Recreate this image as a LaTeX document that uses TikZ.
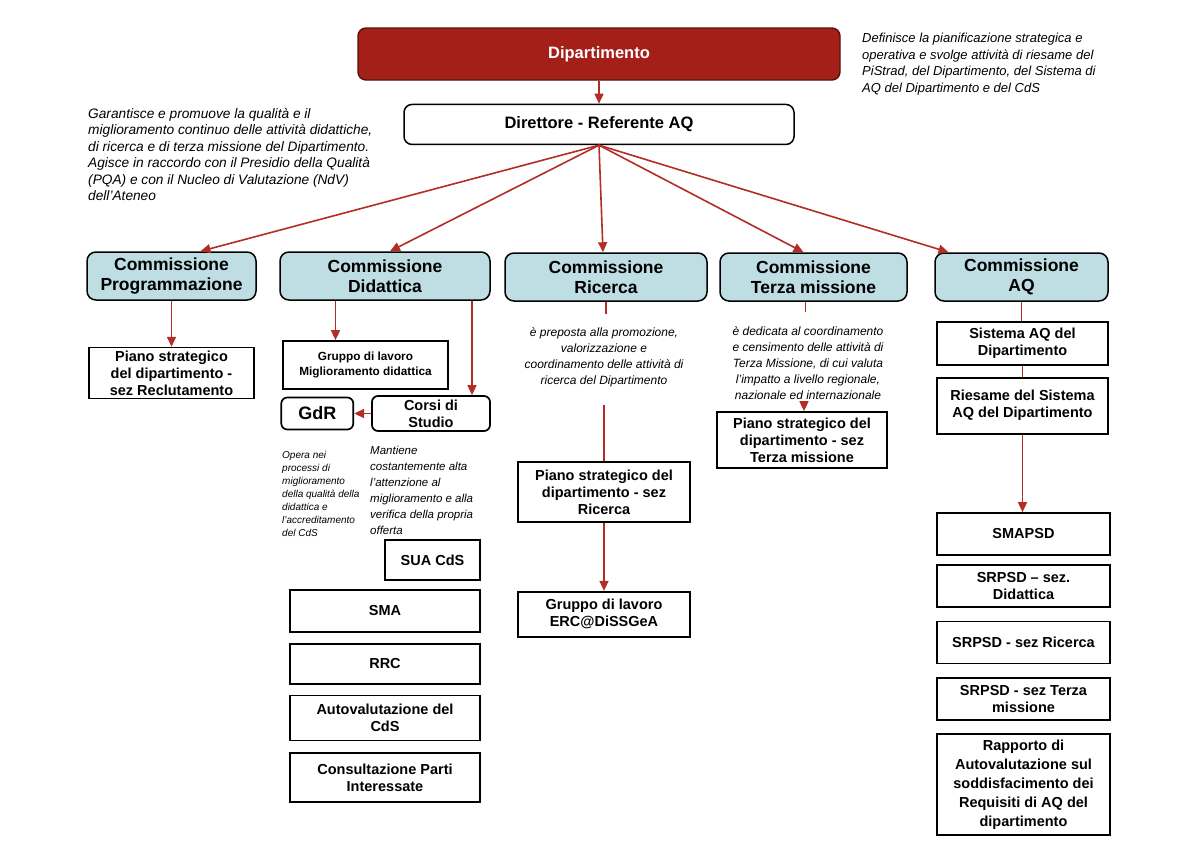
\documentclass[tikz,border=0pt]{standalone}
\usepackage{fontspec}
\setmainfont{Liberation Sans}
\usetikzlibrary{arrows.meta,calc,positioning}

\definecolor{deptred}{RGB}{163,31,24}
\definecolor{commblue}{RGB}{190,222,228}
\definecolor{linkred}{RGB}{178,45,38}
\newcommand{\fs}[2]{\fontsize{#1}{#2}\selectfont}

\begin{document}
\begin{tikzpicture}[
    x=1pt, y=-1pt,
    node distance=10pt,
    dept/.style={rounded corners=8pt, draw=deptred!55!black, line width=1.4pt, fill=deptred, text=white, font=\bfseries\fs{16.5}{19}, minimum width=482pt, minimum height=52pt},
    head/.style={rounded corners=8pt, draw=black, line width=1.5pt, fill=white, font=\bfseries\fs{16.5}{19}, minimum width=390pt, minimum height=40pt},
    comm/.style={rounded corners=9pt, draw=black, line width=1.5pt, fill=commblue, font=\bfseries\fs{17.5}{20}, align=center, minimum height=48pt, inner sep=2pt},
    doc/.style={draw=black, line width=1.7pt, fill=white, align=center, font=\bfseries\fs{14.5}{17}, inner sep=2pt},
    rdoc/.style={doc, rounded corners=6pt},
    note/.style={font=\itshape\fs{13}{16.5}, align=left, inner sep=0pt},
    smallnote/.style={font=\itshape\fs{12}{16}, align=center, inner sep=0pt},
    arr/.style={draw=linkred, line width=1.6pt, -{Triangle[length=10pt,width=9pt]}},
    link/.style={draw=linkred, line width=1.6pt},
  ]
    \useasboundingbox (0,0) rectangle (1200,849);

    % top of the chart
    \node[dept] (dept) at (599,54) {Dipartimento};
    \node[head, below=23pt of dept] (dir) {Direttore - Referente AQ};
    \draw[arr] (dept) -- (dir);

    \node[note, font=\itshape\fs{13.7}{16.5}, anchor=north west] (garantisce) at (88,108) {Garantisce e promuove la qualità e il\\miglioramento continuo delle attività didattiche,\\di ricerca e di terza missione del Dipartimento.\\Agisce in raccordo con il Presidio della Qualità\\(PQA) e con il Nucleo di Valutazione (NdV)\\dell’Ateneo};
    \node[note, anchor=north west] (definisce) at (862,33) {Definisce la pianificazione strategica e\\operativa e svolge attività di riesame del\\PiStrad, del Dipartimento, del Sistema di\\AQ del Dipartimento e del CdS};

    % commissions
    \node[comm, minimum width=169pt] (prog) at (171.5,276) {Commissione\\Programmazione};
    \node[comm, minimum width=210pt] (did) at (385,276) {Commissione\\Didattica};
    \node[comm, minimum width=202pt] (ric) at (606,277) {Commissione\\Ricerca};
    \node[comm, minimum width=187pt] (terza) at (813.5,277) {Commissione\\Terza missione};
    \node[comm, minimum width=173pt] (aq) at (1021.5,277) {Commissione\\AQ};

    \draw[arr] (dir.south) -- ([xshift=29pt]prog.north);
    \draw[arr] (dir.south) -- ([xshift=5pt]did.north);
    \draw[arr] (dir.south) -- ([xshift=-3pt]ric.north);
    \draw[arr] (dir.south) -- ([xshift=-10pt]terza.north);
    \draw[arr] (dir.south) -- ([xshift=-73pt]aq.north);

    % Programmazione
    \node[doc, minimum width=165pt, minimum height=51pt, below=46pt of prog] (pianoRecl) {Piano strategico\\del dipartimento -\\sez Reclutamento};
    \draw[arr] (prog) -- (pianoRecl);

    % Didattica
    \node[doc, font=\bfseries\fs{11.8}{15}, minimum width=165pt, minimum height=48pt] (gdlDid) at (365.5,365) {Gruppo di lavoro\\Miglioramento didattica};
    \coordinate (gdlTop) at ([xshift=-30pt]gdlDid.north);
    \draw[arr] (did.south -| gdlTop) -- (gdlTop);
    \node[rdoc, minimum width=118pt, minimum height=35pt] (corsi) at (431,413.5) {Corsi di\\Studio};
    \node[rdoc, minimum width=72pt, minimum height=32pt, font=\bfseries\fs{18}{20}, left=17pt of corsi] (gdr) {GdR};
    \coordinate (corsiTop) at ([xshift=41pt]corsi.north);
    \draw[arr] (did.south -| corsiTop) -- (corsiTop);
    \draw[arr] (corsi) -- (gdr);

    \node[note, font=\itshape\fs{10}{13}, anchor=north west] (opera) at (282,451) {Opera nei\\processi di\\miglioramento\\della qualità della\\didattica e\\l’accreditamento\\del CdS};
    \node[note, font=\itshape\fs{11.5}{16}, anchor=north west] (mantiene) at (370,446) {Mantiene\\costantemente alta\\l’attenzione al\\miglioramento e alla\\verifica della propria\\offerta};

    \node[doc, minimum width=95pt, minimum height=40pt] (sua) at (432.5,560) {SUA CdS};
    \node[doc, minimum width=190pt, minimum height=42pt] (sma) at (385,611) {SMA};
    \node[doc, minimum width=190pt, minimum height=40pt, below=10pt of sma] (rrc) {RRC};
    \node[doc, minimum width=190pt, minimum height=45pt, below=10pt of rrc] (autoval) {Autovalutazione del\\CdS};
    \node[doc, minimum width=190pt, minimum height=49pt, below=11pt of autoval] (consult) {Consultazione Parti\\Interessate};

    % Ricerca
    \coordinate (ricStub) at ([yshift=-12pt]ric.south);
    \draw[link] (ric.south) -- (ricStub);
    \node[smallnote] (ricNote) at (604,357) {è preposta alla promozione,\\valorizzazione e\\coordinamento delle attività di\\ricerca del Dipartimento};
    \node[doc, minimum width=172pt, minimum height=60pt] (pianoRic) at (604,492) {Piano strategico del\\dipartimento - sez\\Ricerca};
    \coordinate (ricGap) at (604,405);
    \draw[link] (ricGap) -- (pianoRic.north);
    \node[doc, minimum width=172pt, minimum height=45pt, below=68pt of pianoRic] (erc) {Gruppo di lavoro\\ERC@DiSSGeA};
    \draw[arr] (pianoRic) -- (erc);

    % Terza missione
    \coordinate (terzaStub) at ([xshift=-8pt,yshift=-10pt]terza.south);
    \draw[link] ([xshift=-8pt]terza.south) -- (terzaStub);
    \node[smallnote] (terzaNote) at (808,363) {è dedicata al coordinamento\\e censimento delle attività di\\Terza Missione, di cui valuta\\l’impatto a livello regionale,\\nazionale ed internazionale};
    \node[doc, minimum width=170pt, minimum height=56pt] (pianoTerza) at (802,440) {Piano strategico del\\dipartimento - sez\\Terza missione};
    \coordinate (terzaGap) at (804,402);
    \draw[arr] (terzaGap) -- (terzaGap |- pianoTerza.north);

    % AQ
    \node[doc, minimum width=171pt, minimum height=43pt] (sisAQ) at (1022.5,343.5) {Sistema AQ del\\Dipartimento};
    \node[doc, minimum width=171pt, minimum height=56pt, below=11pt of sisAQ] (riesame) {Riesame del Sistema\\AQ del Dipartimento};
    \draw[link] (aq.south) -- (aq.south |- sisAQ.north);
    \draw[link] (sisAQ) -- (riesame);
    \node[doc, minimum width=173pt, minimum height=42pt] (smapsd) at (1023.5,534) {SMAPSD};
    \draw[arr] (riesame) -- (riesame.south |- smapsd.north);
    \node[doc, minimum width=173pt, minimum height=42pt, below=8pt of smapsd] (srDid) {SRPSD – sez.\\Didattica};
    \node[doc, minimum width=173pt, minimum height=42pt, below=13pt of srDid] (srRic) {SRPSD - sez Ricerca};
    \node[doc, minimum width=173pt, minimum height=42pt, below=13pt of srRic] (srTerza) {SRPSD - sez Terza\\missione};
    \node[doc, font=\bfseries\fs{14.5}{19}, minimum width=173pt, minimum height=101pt, below=12pt of srTerza] (rapporto) {Rapporto di\\Autovalutazione sul\\soddisfacimento dei\\Requisiti di AQ del\\dipartimento};
  \end{tikzpicture}
\end{document}
